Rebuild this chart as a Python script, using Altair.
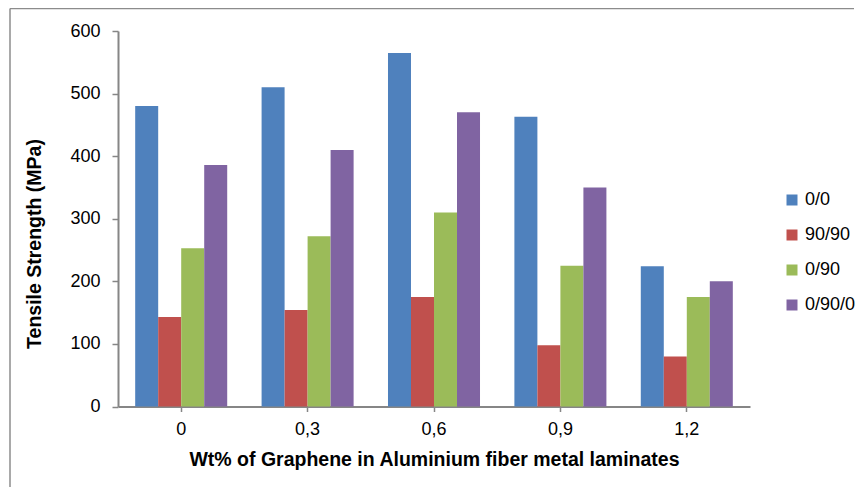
import altair as alt
import pandas as pd

categories = ["0", "0,3", "0,6", "0,9", "1,2"]
series_names = ["0/0", "90/90", "0/90", "0/90/0"]
s_0_0 = [480, 510, 565, 463, 224]
s_90_90 = [143, 154, 175, 98, 80]
s_0_90 = [253, 272, 310, 225, 175]
s_0_90_0 = [386, 410, 470, 350, 200]
colors = ["#4F81BD", "#C0504D", "#9BBB59", "#8064A2"]
y_ticks = [0, 100, 200, 300, 400, 500, 600]

rows = []
for name, vals in zip(series_names, [s_0_0, s_90_90, s_0_90, s_0_90_0]):
    for c, v in zip(categories, vals):
        rows.append({"cat": c, "series": name, "value": v})
df = pd.DataFrame(rows)

FONT = "Liberation Sans"
AXIS_COLOR = "#868686"

bars = alt.Chart(df).mark_bar().encode(
    x=alt.X("cat:N", sort=categories,
            scale=alt.Scale(paddingInner=0.272, paddingOuter=0.136),
            axis=alt.Axis(title="Wt% of Graphene in Aluminium fiber metal laminates",
                          labelAngle=0, labelFontSize=18, labelFont=FONT, labelColor="black",
                          labelPadding=9, tickSize=5, tickColor=AXIS_COLOR, tickWidth=1.5,
                          domainColor=AXIS_COLOR, domainWidth=2,
                          titleFont=FONT, titleFontSize=19.5, titleFontWeight="bold",
                          titleColor="black", titleY=58.5, titleBaseline="alphabetic",
                          grid=False)),
    xOffset=alt.XOffset("series:N", sort=series_names, scale=alt.Scale(paddingInner=0, paddingOuter=0)),
    y=alt.Y("value:Q", scale=alt.Scale(domain=[0, 600], nice=False),
            axis=alt.Axis(title="Tensile Strength (MPa)", values=y_ticks,
                          labelFontSize=18, labelFont=FONT, labelColor="black",
                          labelPadding=12, tickSize=6, tickColor=AXIS_COLOR, tickWidth=1.5,
                          domainColor=AXIS_COLOR, domainWidth=2,
                          titleFont=FONT, titleFontSize=19.5, titleFontWeight="bold",
                          titleColor="black", titleAngle=270, titleX=-83.5, titleY=212.5,
                          titleAlign="center", titleBaseline="middle",
                          grid=False)),
    color=alt.Color("series:N", sort=series_names,
                    scale=alt.Scale(domain=series_names, range=colors),
                    legend=alt.Legend(title=None, orient="none", legendX=665, legendY=160,
                                      symbolType="square", symbolSize=121, symbolStrokeWidth=0,
                                      labelFontSize=18, labelFont=FONT, labelColor="black",
                                      labelOffset=4, rowPadding=17, padding=0)),
)

frame = pd.DataFrame({"k": [0]})
left_border = alt.Chart(frame).mark_rule(color="#8c8c8c", strokeWidth=1.5).encode(
    x=alt.value(-108), y=alt.value(-22.5), y2=alt.value(456))
top_border = alt.Chart(frame).mark_rule(color="#8c8c8c", strokeWidth=1.5).encode(
    x=alt.value(-108), x2=alt.value(736), y=alt.value(-22.5))

chart = alt.layer(bars, left_border, top_border).properties(
    width=632, height=375.5,
    background="white",
    autosize=alt.AutoSizeParams(type="none"),
    padding={"left": 110, "top": 23, "right": 105, "bottom": 81},
).configure_view(stroke="transparent", strokeWidth=0)

chart.save("out.html", embed_options={"renderer": "svg", "actions": False})
